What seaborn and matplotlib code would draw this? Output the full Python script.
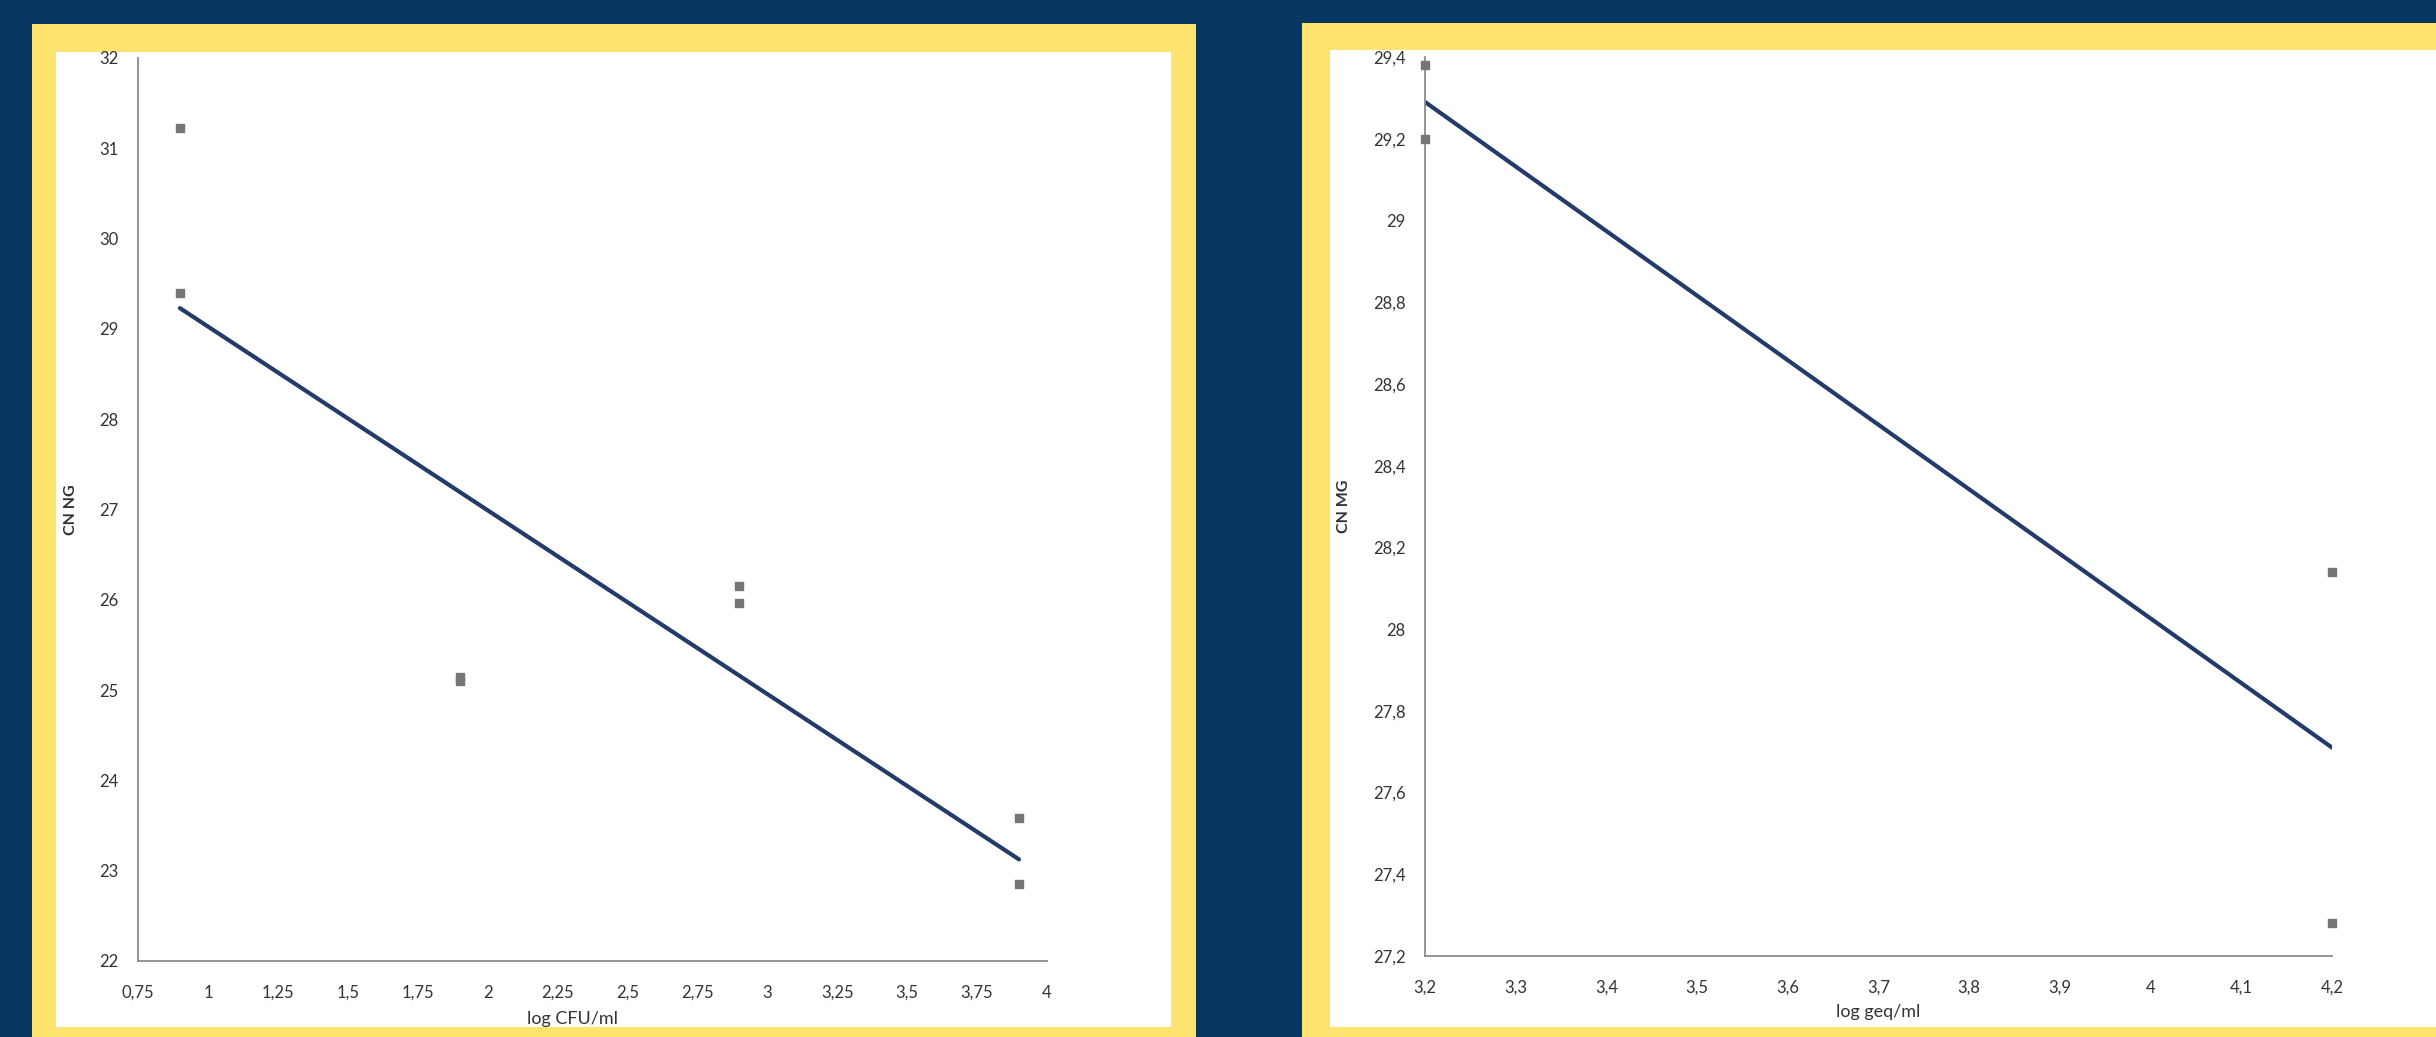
import matplotlib
matplotlib.use("Agg")
import matplotlib.pyplot as plt
import seaborn as sns
from matplotlib.patches import Rectangle
from matplotlib.ticker import MultipleLocator, FuncFormatter

# --- data ---
cfu_x = [0.9, 0.9, 1.9, 1.9, 2.9, 2.9, 3.9, 3.9]
cn_ng = [31.22, 29.40, 25.15, 25.10, 26.15, 25.97, 23.58, 22.85]

geq_x = [3.2, 3.2, 4.2, 4.2]
cn_mg = [29.38, 29.20, 28.14, 27.28]

NAVY = "#063763"
YELLOW = "#FFE36F"
LINE = "#233a6b"
POINT = "#767676"
SPINE = "#8c8c8c"

W, H = 2436, 1037

sns.set_style("white")
plt.rcParams["font.family"] = ["Lato", "DejaVu Sans"]

fig = plt.figure(figsize=(W / 100, H / 100), dpi=100, facecolor=NAVY)


def px_rect(x0, y0, x1, y1, color, z=0):
    # pixel box (top-left origin) -> figure rectangle
    r = Rectangle((x0 / W, 1 - y1 / H), (x1 - x0) / W, (y1 - y0) / H,
                  transform=fig.transFigure, facecolor=color, edgecolor="none",
                  zorder=z)
    fig.patches.append(r)


# frames
px_rect(32, 24, 1196, H, YELLOW, -2)
px_rect(56, 52, 1171, 1027, "white", -1)
px_rect(1302, 23, W, H, YELLOW, -2)
px_rect(1330, 50, W, 1027, "white", -1)


def px_axes(x0, y0, x1, y1):
    return fig.add_axes([x0 / W, 1 - y1 / H, (x1 - x0) / W, (y1 - y0) / H])


comma = FuncFormatter(lambda v, p: f"{v:g}".replace(".", ","))


def style_axis(ax, xlim, ylim, xstep, ystep, xlab, ylab, xl_pos, yl_pos):
    ax.set_facecolor("none")
    ax.set_xlim(*xlim)
    ax.set_ylim(*ylim)
    ax.xaxis.set_major_locator(MultipleLocator(xstep))
    ax.yaxis.set_major_locator(MultipleLocator(ystep))
    ax.xaxis.set_major_formatter(comma)
    ax.yaxis.set_major_formatter(comma)
    for s in ["top", "right"]:
        ax.spines[s].set_visible(False)
    for s in ["left", "bottom"]:
        ax.spines[s].set_color(SPINE)
        ax.spines[s].set_linewidth(1.3)
    ax.tick_params(axis="both", direction="out", length=6, width=1.2,
                   color=SPINE, labelsize=12, labelcolor="#333333", pad=8)
    ax.tick_params(axis="x", pad=11)
    ax.set_xlabel(xlab, fontsize=13, color="#333333")
    ax.set_ylabel(ylab, fontsize=11.5, color="#333333", fontweight="bold")
    ax.xaxis.set_label_coords(*xl_pos)
    ax.yaxis.set_label_coords(*yl_pos)


# left chart
ax1 = px_axes(138, 58, 1047, 961)
sns.regplot(x=cfu_x, y=cn_ng, ax=ax1, ci=None, marker="s",
            scatter_kws=dict(s=40, color=POINT, alpha=1, zorder=3, clip_on=False),
            line_kws=dict(color=LINE, lw=3))
style_axis(ax1, (0.75, 4), (22, 32), 0.25, 1, "log CFU/ml", "CN NG",
           (0.478, -0.055), (-0.066, 0.5))

# right chart
ax2 = px_axes(1425, 57, 2332, 956)
sns.regplot(x=geq_x, y=cn_mg, ax=ax2, ci=None, marker="s",
            scatter_kws=dict(s=40, color=POINT, alpha=1, zorder=3, clip_on=False),
            line_kws=dict(color=LINE, lw=3))
style_axis(ax2, (3.2, 4.2), (27.2, 29.4), 0.1, 0.2, "log geq/ml", "CN MG",
           (0.5, -0.053), (-0.082, 0.5))

# bottom yellow strip drawn over the axis titles
px_rect(56, 1027, 1171, H, YELLOW, 10)
px_rect(1330, 1027, W, H, YELLOW, 10)

fig.savefig("out.png", dpi=100, facecolor=NAVY)
